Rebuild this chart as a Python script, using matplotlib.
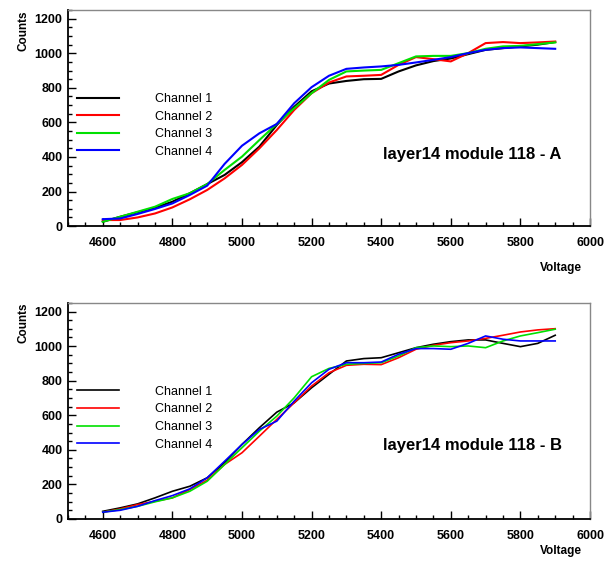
import matplotlib
matplotlib.use("Agg")
import matplotlib.pyplot as plt
from matplotlib.ticker import MultipleLocator

plt.rcParams['font.family'] = ['Liberation Sans', 'DejaVu Sans']

voltage = [4600, 4650, 4700, 4750, 4800, 4850, 4900, 4950, 5000, 5050, 5100, 5150, 5200,
           5250, 5300, 5350, 5400, 5450, 5500, 5550, 5600, 5650, 5700, 5750, 5800, 5850, 5900]

# Panel A
a_ch1 = [25, 54, 80, 106, 141, 190, 243, 296, 370, 460, 585, 690, 780,
         825, 840, 850, 852, 895, 930, 955, 970, 995, 1020, 1030, 1040, 1050, 1065]
a_ch2 = [35, 35, 50, 73, 108, 155, 209, 276, 354, 450, 556, 672, 769,
         831, 866, 870, 875, 933, 978, 966, 953, 1001, 1059, 1065, 1059, 1063, 1068]
a_ch3 = [25, 54, 83, 112, 157, 190, 243, 325, 402, 498, 591, 682, 769,
         846, 895, 900, 904, 943, 982, 985, 985, 1001, 1026, 1040, 1043, 1053, 1063]
a_ch4 = [40, 44, 70, 99, 131, 180, 234, 360, 465, 537, 591, 711, 804,
         870, 910, 918, 924, 933, 947, 962, 978, 1001, 1020, 1030, 1034, 1030, 1026]

# Panel B
b_ch1 = [44, 64, 87, 122, 160, 189, 238, 325, 431, 528, 618, 672, 759,
         837, 914, 928, 933, 962, 991, 1011, 1026, 1036, 1036, 1016, 997, 1016, 1063]
b_ch2 = [39, 58, 83, 102, 122, 170, 224, 315, 383, 479, 576, 672, 769,
         846, 889, 895, 893, 933, 982, 1005, 1020, 1030, 1045, 1063, 1082, 1094, 1101]
b_ch3 = [39, 54, 73, 99, 122, 160, 218, 315, 412, 508, 595, 701, 823,
         871, 895, 900, 904, 943, 991, 1001, 997, 1001, 991, 1030, 1059, 1078, 1098]
b_ch4 = [39, 50, 73, 106, 135, 174, 238, 334, 431, 518, 566, 682, 788,
         866, 904, 904, 908, 953, 986, 986, 982, 1016, 1059, 1040, 1030, 1030, 1030]

labels = ["Channel 1", "Channel 2", "Channel 3", "Channel 4"]
colors = ["#000000", "#ff0000", "#00e000", "#0000ff"]
titles = ["layer14 module 118 - A", "layer14 module 118 - B"]

fig = plt.figure(figsize=(6.07, 5.61), dpi=100)
ax_a = fig.add_axes([0.112, 0.597, 0.860, 0.385])
ax_b = fig.add_axes([0.112, 0.075, 0.860, 0.385])

panels = [(ax_a, [a_ch1, a_ch2, a_ch3, a_ch4], titles[0], 1.5, -0.165, 0.33),
          (ax_b, [b_ch1, b_ch2, b_ch3, b_ch4], titles[1], 1.2, -0.12, 0.338)]

for ax, series, title, lw, vy, ty in panels:
    for s, c, lab in zip(series, colors, labels):
        ax.plot(voltage, s, color=c, lw=lw, label=lab)
    ax.set_xlim(4500, 6000)
    ax.set_ylim(0, 1250)
    ax.xaxis.set_major_locator(MultipleLocator(200))
    ax.xaxis.set_minor_locator(MultipleLocator(50))
    ax.yaxis.set_major_locator(MultipleLocator(200))
    ax.yaxis.set_minor_locator(MultipleLocator(50))
    ax.tick_params(which='both', direction='in', top=False, right=False)
    ax.tick_params(which='major', length=6, width=1)
    ax.tick_params(which='minor', length=3, width=1)
    for lbl in ax.get_xticklabels() + ax.get_yticklabels():
        lbl.set_fontweight('bold')
        lbl.set_fontsize(9)
    ax.tick_params(axis='x', pad=8)
    ax.tick_params(axis='y', pad=4)
    ax.spines['left'].set_linewidth(1.3)
    ax.spines['bottom'].set_linewidth(1.3)
    ax.spines['top'].set_color('#888888')
    ax.spines['right'].set_color('#888888')
    ax.spines['top'].set_linewidth(1.0)
    ax.spines['right'].set_linewidth(1.0)
    ax.text(0.985, vy, "Voltage", transform=ax.transAxes, ha='right', va='top',
            fontsize=8.5, fontweight='bold')
    ax.text(-0.085, 1.0, "Counts", transform=ax.transAxes, ha='center', va='top',
            rotation=90, fontsize=8.5, fontweight='bold')
    ax.text(0.946, ty, title, transform=ax.transAxes, ha='right', va='center',
            fontsize=12, fontweight='bold')
    ax.legend(loc='upper left', bbox_to_anchor=(0.0, 0.657), frameon=False,
              handlelength=3.4, handletextpad=2.9, labelspacing=0.45,
              borderaxespad=0.3, prop={'size': 9})

fig.savefig("out.png", dpi=100)
